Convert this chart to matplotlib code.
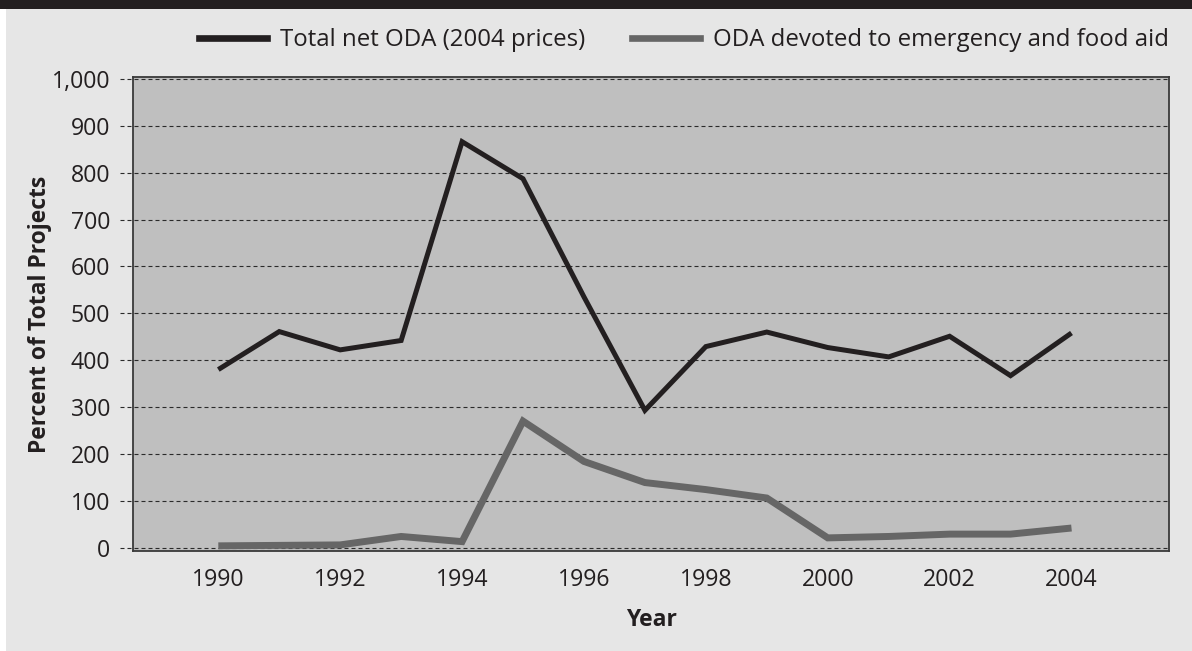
import matplotlib
matplotlib.use("Agg")
import matplotlib.pyplot as plt
from matplotlib.lines import Line2D
from matplotlib.patches import Rectangle

plt.rcParams["font.family"] = ["Open Sans", "DejaVu Sans"]

# values
years = [1990, 1991, 1992, 1993, 1994, 1995, 1996, 1997, 1998, 1999, 2000, 2001, 2002, 2003, 2004]
total_oda = [380, 461, 422, 442, 866, 787, 535, 293, 429, 460, 427, 407, 451, 367, 458]
emergency_oda = [4, 5, 6, 24, 13, 270, 184, 139, 124, 106, 21, 24, 29, 29, 42]

series_names = ["Total net ODA (2004 prices)", "ODA devoted to emergency and food aid"]
y_ticks = [0, 100, 200, 300, 400, 500, 600, 700, 800, 900, 1000]
x_ticks = [1990, 1992, 1994, 1996, 1998, 2000, 2002, 2004]

text_color = "#231f20"
black_line = "#231f20"
gray_line = "#666666"

W, H = 1192, 651
fig = plt.figure(figsize=(W / 100, H / 100), dpi=100)
fig.patch.set_facecolor("white")

# background panel + dark band on top
fig.patches.append(Rectangle((6 / W, 0), 1 - 6 / W, 1 - 9 / H, transform=fig.transFigure,
                             facecolor="#e6e6e6", edgecolor="none", zorder=-10))
fig.patches.append(Rectangle((0, 1 - 9 / H), 1, 9 / H, transform=fig.transFigure,
                             facecolor="#231f20", edgecolor="none", zorder=-10))

left, right, top, bottom = 133, 1169, 77, 551
ax = fig.add_axes([left / W, 1 - bottom / H, (right - left) / W, (bottom - top) / H])
ax.set_facecolor("#bfbfbf")

ax.set_xlim(1988.6, 2005.6)
ax.set_ylim(-7, 1004)

# dashed grid lines, running a bit past the left spine like tick marks
for v in y_ticks:
    ax.plot([-0.0125, 1], [v, v], transform=ax.get_yaxis_transform(), clip_on=False,
            color="#2a2a2a", lw=0.8, linestyle=(0, (3.6, 2.7)), zorder=1)

ax.plot(years, total_oda, color=black_line, lw=3.6, solid_joinstyle="miter",
        solid_capstyle="butt", zorder=3)
ax.plot(years, emergency_oda, color=gray_line, lw=5, solid_joinstyle="miter",
        solid_capstyle="butt", zorder=3)

ax.set_yticks(y_ticks)
ax.set_yticklabels([f"{v:,}" for v in y_ticks])
ax.set_xticks(x_ticks)
ax.tick_params(axis="y", length=0, pad=16.5, labelsize=16.7, labelcolor=text_color)
ax.tick_params(axis="x", length=0, pad=12, labelsize=16.7, labelcolor=text_color)

for sp in ax.spines.values():
    sp.set_color("#3a3a3a")
    sp.set_linewidth(1.3)
    sp.set_zorder(4)

ax.set_xlabel("Year", fontsize=16.5, fontweight="bold", color=text_color, va="center")
ax.xaxis.set_label_coords(0.5, (bottom - 620) / (bottom - top))
ax.set_ylabel("Percent of Total Projects", fontsize=16.5, fontweight="bold", color=text_color,
              va="center")
ax.yaxis.set_label_coords((40 - left) / (right - left), 0.5)

handles = [Line2D([], [], color=black_line, lw=4.8),
           Line2D([], [], color=gray_line, lw=4.8)]
fig.legend(handles, series_names, loc="center right", ncol=2, frameon=False,
           bbox_to_anchor=(right / W, 1 - 40 / H), borderaxespad=0, borderpad=0,
           fontsize=17.3, handlelength=2.83, handletextpad=0.54, columnspacing=1.96,
           labelcolor=text_color)

fig.savefig("out.png", dpi=100)
